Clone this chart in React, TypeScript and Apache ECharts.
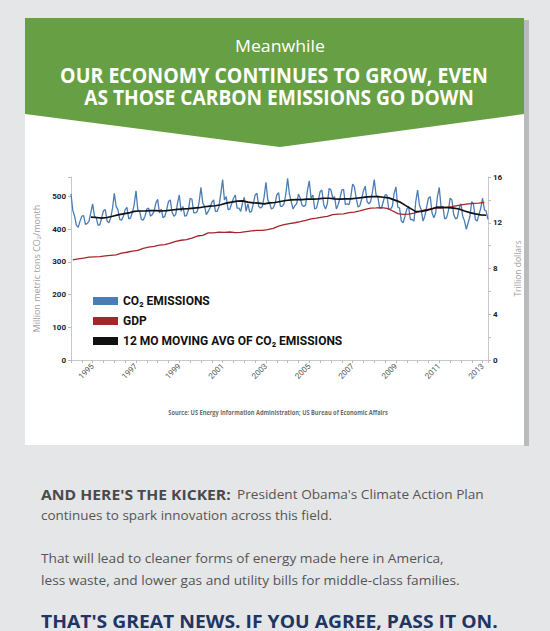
import React, { useEffect, useRef } from "react";
import * as echarts from "echarts";

// ---------- DATA ----------
const startYear = 1994; // monthly CO2 series begins Jan 1994
// Monthly US CO2 emissions, million metric tons (Jan 1994 – Apr 2013)
const co2Emissions = [
  508, 458, 440, 412, 406, 425, 440, 442, 415, 418, 425, 452, // 1994
  478, 440, 435, 412, 414, 435, 457, 460, 425, 420, 435, 465, // 1995
  510, 470, 460, 430, 428, 440, 460, 467, 432, 435, 452, 475, // 1996
  518, 460, 455, 430, 428, 440, 462, 465, 440, 445, 455, 480, // 1997
  492, 450, 462, 435, 440, 460, 485, 490, 452, 440, 445, 480, // 1998
  505, 455, 470, 440, 442, 458, 495, 492, 450, 450, 455, 485, // 1999
  528, 480, 470, 445, 455, 465, 482, 490, 455, 455, 470, 510, // 2000
  552, 490, 500, 460, 462, 478, 495, 505, 465, 465, 455, 480, // 2001
  498, 455, 478, 452, 455, 478, 505, 510, 470, 465, 470, 500, // 2002
  544, 490, 480, 462, 465, 478, 505, 512, 470, 470, 478, 508, // 2003
  556, 508, 485, 462, 472, 478, 508, 495, 474, 470, 475, 520, // 2004
  548, 495, 505, 462, 465, 488, 515, 520, 475, 462, 478, 525, // 2005
  520, 495, 500, 462, 475, 495, 520, 522, 475, 478, 475, 500, // 2006
  538, 530, 495, 468, 472, 492, 518, 532, 485, 478, 485, 515, // 2007
  552, 505, 498, 465, 465, 485, 505, 505, 462, 462, 470, 510, // 2008
  530, 468, 465, 425, 420, 440, 462, 470, 430, 430, 425, 485, // 2009
  520, 475, 460, 425, 440, 468, 495, 500, 450, 435, 450, 500, // 2010
  528, 468, 470, 432, 435, 455, 495, 490, 445, 432, 435, 465, // 2011
  478, 440, 425, 400, 420, 440, 485, 475, 430, 425, 445, 465, // 2012
  495, 460, 455, 430, // 2013
];

// Quarterly real GDP, trillion dollars (1994 Q1 – 2013 Q1)
const gdpTrillions = [
  8.75, 8.84, 8.9, 8.99,
  9.02, 9.04, 9.1, 9.15,
  9.2, 9.35, 9.42, 9.52,
  9.59, 9.75, 9.86, 9.94,
  10.04, 10.09, 10.21, 10.38,
  10.47, 10.53, 10.66, 10.84,
  10.9, 11.11, 11.12, 11.18,
  11.15, 11.19, 11.13, 11.16,
  11.23, 11.29, 11.33, 11.34,
  11.4, 11.51, 11.71, 11.84,
  11.92, 12.0, 12.1, 12.21,
  12.34, 12.4, 12.5, 12.56,
  12.71, 12.76, 12.78, 12.88,
  12.93, 13.04, 13.16, 13.28,
  13.3, 13.33, 13.25, 13.05,
  12.8, 12.74, 12.76, 12.84,
  13.0, 13.12, 13.2, 13.27,
  13.28, 13.35, 13.4, 13.5,
  13.58, 13.65, 13.7, 13.72,
  13.78,
];

// 12-month moving average of CO2, read every 3 months from Dec 1994 to Mar 2013
const maStartYear = 1994 + 11 / 12;
const movingAvg = [
  437,
  436, 434, 436, 440,
  444, 447, 450, 455,
  456, 456, 457, 457,
  456, 457, 459, 461,
  462, 463, 465, 466,
  469, 471, 472, 475,
  480, 483, 486, 487,
  483, 481, 480, 478,
  481, 482, 485, 488,
  490, 491, 491, 492,
  492, 493, 495, 495,
  493, 492, 493, 493,
  495, 497, 499, 500,
  500, 498, 496, 490,
  484, 474, 464, 454,
  455, 458, 463, 468,
  467, 466, 465, 462,
  456, 451, 447, 444,
  443,
];

const yearLabels = ["1995", "1997", "1999", "2001", "2003", "2005", "2007", "2009", "2011", "2013"];
const leftTicks = [0, 100, 200, 300, 400, 500];
const rightTicks = [0, 4, 8, 12, 16];

const seriesNames = ["CO₂ EMISSIONS", "GDP", "12 MO MOVING AVG OF CO₂ EMISSIONS"];

// ---------- HELPERS ----------
let measureCtx: CanvasRenderingContext2D | null = null;
function fitScale(text: string, weight: string, size: number, family: string, target: number) {
  if (!measureCtx) measureCtx = document.createElement("canvas").getContext("2d");
  if (!measureCtx) return 1;
  measureCtx.font = `${weight} ${size}px "${family}"`;
  const w = measureCtx.measureText(text).width;
  return w > 0 ? target / w : 1;
}

function txt(
  text: string,
  x: number,
  y: number,
  opts: { size: number; weight?: string; family?: string; fill: string; align?: string; width?: number }
) {
  const weight = opts.weight || "normal";
  const family = opts.family || "Open Sans";
  const sx = opts.width ? fitScale(text, weight, opts.size, family, opts.width) : 1;
  return {
    type: "text",
    x,
    y,
    scaleX: sx,
    z: 100,
    style: {
      text,
      fill: opts.fill,
      fontSize: opts.size,
      fontWeight: weight,
      fontFamily: family,
      textAlign: opts.align || "left",
      textVerticalAlign: "middle",
      verticalAlign: "middle",
    },
  };
}

export default function App() {
  const ref = useRef<HTMLDivElement>(null);

  useEffect(() => {
    if (!ref.current) return;
    const chart = echarts.init(ref.current, undefined, { renderer: "svg" });

    const co2Points = co2Emissions.map((v, i) => [startYear + i / 12, v]);
    const gdpPoints = gdpTrillions.map((v, i) => [startYear + (i * 3 + 1) / 12, v]);
    const maPoints = movingAvg.map((v, i) => [maStartYear + (i * 3) / 12, v]);

    const graphics: any[] = [
      // card shadow + card
      { type: "rect", z: -20, shape: { x: 524, y: 20, width: 5, height: 426 }, style: { fill: "#b9babb" } },
      { type: "rect", z: -19, shape: { x: 25, y: 18, width: 499, height: 427 }, style: { fill: "#ffffff" } },
      // green banner
      {
        type: "polygon",
        z: -18,
        shape: { points: [[25, 18], [524, 18], [524, 114], [280, 147], [25, 114]] },
        style: { fill: "#67a044" },
      },
      txt("Meanwhile", 280, 45.5, { size: 17, fill: "#ffffff", align: "center", width: 90 }),
      txt("OUR ECONOMY CONTINUES TO GROW, EVEN", 274, 74.5, { size: 22, weight: "bold", fill: "#ffffff", align: "center", width: 428 }),
      txt("AS THOSE CARBON EMISSIONS GO DOWN", 279, 96.5, { size: 22, weight: "bold", fill: "#ffffff", align: "center", width: 390 }),
      txt("Source: US Energy Information Administration; US Bureau of Economic Affairs", 278, 412, {
        size: 6.5, weight: "bold", fill: "#6a6a6a", align: "center", width: 220,
      }),
      // bottom text
      txt("AND HERE'S THE KICKER:", 41, 494, { size: 13.5, weight: "bold", fill: "#4a4a4a", width: 190 }),
      txt("President Obama's Climate Action Plan", 237, 494, { size: 13, fill: "#555555", width: 247 }),
      txt("continues to spark innovation across this field.", 41, 515, { size: 13, fill: "#555555", width: 291 }),
      txt("That will lead to cleaner forms of energy made here in America,", 41, 558, { size: 13, fill: "#555555", width: 403 }),
      txt("less waste, and lower gas and utility bills for middle-class families.", 41, 580, { size: 13, fill: "#555555", width: 419 }),
      txt("THAT'S GREAT NEWS. IF YOU AGREE, PASS IT ON.", 41, 621, { size: 17, weight: "bold", fill: "#1f3563", width: 457 }),
    ];

    const axisLineGray = "#c9c9c9";

    chart.setOption({
      animation: false,
      backgroundColor: "#e5e6e7",
      graphic: graphics,
      grid: { left: 71, right: 62, top: 177, bottom: 271, containLabel: false },
      legend: {
        orient: "vertical",
        left: 88,
        top: 290,
        itemWidth: 25,
        itemHeight: 8,
        itemGap: 8,
        icon: "rect",
        data: seriesNames,
        textStyle: { fontSize: 12, lineHeight: 12, fontWeight: "bold", color: "#111", fontFamily: "Roboto" },
      },
      xAxis: {
        type: "value",
        min: 1994,
        max: 2013.25,
        interval: 0.5,
        axisLine: { lineStyle: { color: axisLineGray } },
        axisTick: { length: 3, lineStyle: { color: "#bbbbbb" } },
        splitLine: { show: false },
        axisLabel: {
          rotate: 45,
          margin: 5,
          fontSize: 8,
          color: "#555",
          fontFamily: "Roboto",
          formatter: (v: number) => (yearLabels.includes(String(v)) ? String(v) : ""),
        },
      },
      yAxis: [
        {
          type: "value",
          position: "left",
          min: 0,
          max: 560,
          interval: 100,
          name: "Million metric tons CO₂/month",
          nameLocation: "middle",
          nameRotate: 90,
          nameGap: 29,
          nameTextStyle: { color: "#a0a0a0", fontSize: 9, fontFamily: "Open Sans" },
          axisLine: { show: true, lineStyle: { color: axisLineGray } },
          axisTick: { show: true, length: 3, lineStyle: { color: "#bbbbbb" } },
          splitLine: { show: false },
          axisLabel: {
            margin: 5,
            fontSize: 8,
            fontWeight: "bold",
            color: "#222",
            fontFamily: "Roboto",
            formatter: (v: number) => (leftTicks.includes(v) ? String(v) : ""),
          },
        },
        {
          type: "value",
          position: "right",
          min: 0,
          max: 16,
          interval: 2,
          name: "Trillion dollars",
          nameLocation: "middle",
          nameRotate: 90,
          nameGap: 23,
          nameTextStyle: { color: "#a0a0a0", fontSize: 8.5, fontFamily: "Open Sans" },
          axisLine: { show: true, lineStyle: { color: axisLineGray } },
          axisTick: { show: true, length: 3, lineStyle: { color: "#bbbbbb" } },
          splitLine: { show: false },
          axisLabel: {
            margin: 5,
            fontSize: 8,
            fontWeight: "bold",
            color: "#222",
            fontFamily: "Roboto",
            formatter: (v: number) => (rightTicks.includes(v) ? String(v) : ""),
          },
        },
      ],
      series: [
        {
          name: seriesNames[0],
          type: "line",
          yAxisIndex: 0,
          data: co2Points,
          showSymbol: false,
          color: "#4a7db6",
          lineStyle: { color: "#4a7db6", width: 1.3 },
          z: 2,
        },
        {
          name: seriesNames[1],
          type: "line",
          yAxisIndex: 1,
          data: gdpPoints,
          showSymbol: false,
          color: "#a3262a",
          lineStyle: { color: "#a3262a", width: 1.3 },
          z: 3,
        },
        {
          name: seriesNames[2],
          type: "line",
          yAxisIndex: 0,
          data: maPoints,
          showSymbol: false,
          color: "#111111",
          lineStyle: { color: "#111111", width: 1.7 },
          z: 4,
        },
      ],
    });

    return () => chart.dispose();
  }, []);

  return <div ref={ref} style={{ position: "absolute", left: 0, top: 0, width: 550, height: 631 }} />;
}
